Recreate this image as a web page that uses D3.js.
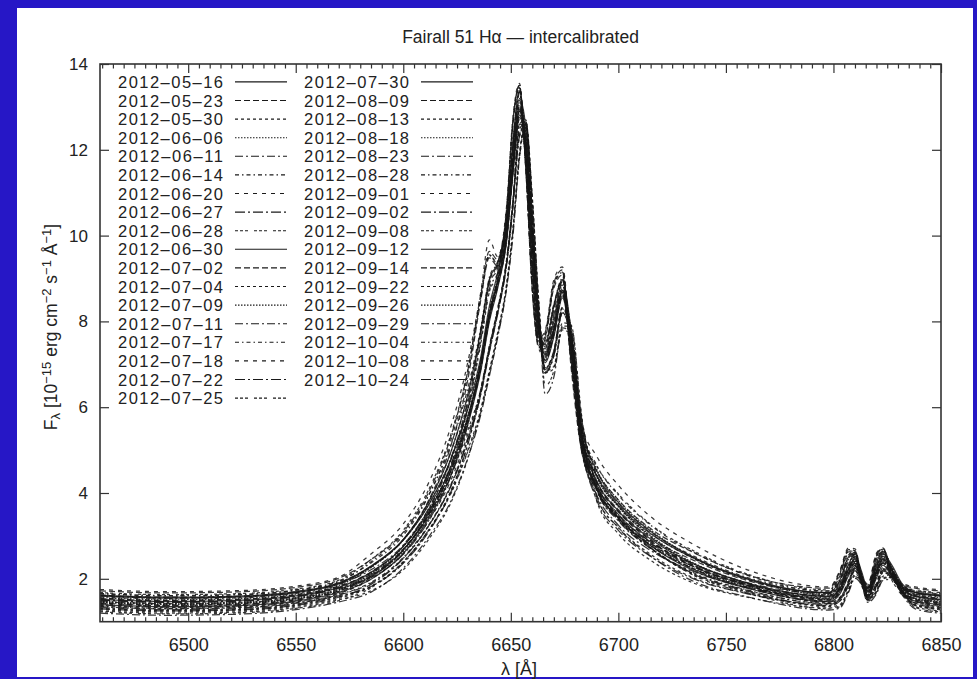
<!DOCTYPE html>
<html>
<head>
<meta charset="utf-8">
<script src="https://cdn.jsdelivr.net/npm/d3@7"></script>
<style>
html,body{margin:0;padding:0;background:#2617c6;}
svg{display:block;}
text{font-family:"Liberation Sans",Arial,Helvetica,sans-serif;fill:#222;}
</style>
</head>
<body>
<svg id="chart" width="977" height="679"></svg>
<script>
// ---- data ----
const titleText = "Fairall 51 H\u03b1 \u2014 intercalibrated";
const xTicks = [6500, 6550, 6600, 6650, 6700, 6750, 6800, 6850];
const yTicks = [2, 4, 6, 8, 10, 12, 14];
const dates = [
 "2012-05-16","2012-05-23","2012-05-30","2012-06-06","2012-06-11","2012-06-14","2012-06-20","2012-06-27","2012-06-28",
 "2012-06-30","2012-07-02","2012-07-04","2012-07-09","2012-07-11","2012-07-17","2012-07-18","2012-07-22","2012-07-25",
 "2012-07-30","2012-08-09","2012-08-13","2012-08-18","2012-08-23","2012-08-28","2012-09-01","2012-09-02","2012-09-08",
 "2012-09-12","2012-09-14","2012-09-22","2012-09-26","2012-09-29","2012-10-04","2012-10-08","2012-10-24"
];
const wavelengths = [6459,6490,6520,6550,6570,6585,6600,6612,6622,6630,6636,6640,6644,6648,6651,6654,6657,6660,6663,6666,6670,6674,6678,6683,6690,6700,6715,6735,6760,6798,6803,6807,6810,6813,6816,6820,6823,6827,6832,6838,6850];
const fluxes = [
 [1.60,1.55,1.57,1.68,1.88,2.28,2.90,3.74,4.77,5.96,7.16,8.35,9.15,10.2,11.8,13.2,12.5,10.1,8.1,7.4,8.0,8.95,7.8,5.56,4.51,3.78,3.11,2.50,2.01,1.67,1.85,2.33,2.58,2.18,1.78,2.28,2.58,2.33,1.88,1.68,1.60],
 [1.72,1.67,1.69,1.80,2.01,2.45,3.09,4.04,5.30,6.85,8.63,9.63,9.43,10.6,12.7,13.5,11.6,8.8,7.55,7.75,8.9,9.2,7.15,5.25,4.50,3.84,3.17,2.61,2.09,1.78,2.17,2.68,2.66,2.07,1.85,2.57,2.70,2.17,1.87,1.78,1.72],
 [1.25,1.20,1.22,1.33,1.51,1.72,2.21,2.93,3.76,4.80,5.90,6.80,7.72,8.82,10.1,11.9,12.6,10.8,8.4,6.8,6.9,7.8,7.7,5.4,3.8,3.05,2.43,1.90,1.57,1.32,1.37,1.73,2.07,1.92,1.50,1.70,2.02,2.05,1.67,1.35,1.25],
 [1.45,1.40,1.42,1.53,1.73,2.11,2.75,3.60,4.59,5.77,6.92,8.07,8.87,9.92,11.5,12.8,12.1,9.8,7.8,7.1,7.7,8.6,7.62,5.42,4.37,3.68,2.99,2.35,1.89,1.52,1.70,2.13,2.38,1.98,1.63,2.08,2.38,2.13,1.73,1.53,1.45],
 [1.35,1.30,1.32,1.43,1.62,1.90,2.48,3.25,4.16,5.26,6.36,7.36,8.27,9.37,10.8,12.6,12.5,10.4,8.1,6.9,7.3,8.3,7.7,5.36,4.06,3.35,2.70,2.12,1.73,1.42,1.53,1.90,2.25,1.95,1.56,1.85,2.20,2.10,1.70,1.43,1.35],
 [1.65,1.60,1.62,1.73,1.93,2.40,3.06,3.97,5.11,6.44,7.84,9.02,9.42,10.4,12.2,13.35,11.9,9.4,7.74,7.54,8.4,9.0,7.54,5.54,4.64,3.95,3.25,2.62,2.08,1.71,2.00,2.55,2.65,2.10,1.80,2.42,2.68,2.28,1.85,1.72,1.65],
 [1.55,1.50,1.52,1.63,1.83,2.13,2.69,3.50,4.51,5.73,7.08,8.23,9.03,10.1,11.7,13.0,12.3,10.0,7.98,7.28,7.88,8.78,7.58,5.18,4.13,3.42,2.81,2.29,1.87,1.62,1.80,2.27,2.52,2.12,1.73,2.22,2.52,2.27,1.83,1.63,1.55],
 [1.30,1.25,1.27,1.38,1.57,1.87,2.47,3.25,4.14,5.23,6.28,7.28,8.2,9.3,10.7,12.5,12.6,10.3,8.0,6.8,7.2,8.2,7.65,5.38,4.08,3.39,2.72,2.11,1.71,1.37,1.48,1.84,2.19,1.89,1.51,1.79,2.14,2.04,1.65,1.38,1.30],
 [1.42,1.37,1.39,1.50,1.70,2.04,2.66,3.55,4.62,5.97,7.47,8.68,9.08,10.1,11.9,13.0,11.6,9.1,7.37,7.17,8.07,8.68,7.07,4.97,4.07,3.45,2.79,2.22,1.79,1.48,1.77,2.25,2.35,1.87,1.57,2.12,2.38,1.98,1.62,1.49,1.42],
 [1.52,1.47,1.49,1.60,1.80,2.15,2.75,3.58,4.58,5.78,7.03,8.18,8.98,10.0,11.6,12.95,12.2,9.95,7.93,7.23,7.83,8.73,7.63,5.33,4.28,3.58,2.93,2.35,1.90,1.59,1.77,2.23,2.48,2.08,1.70,2.18,2.48,2.23,1.80,1.60,1.52],
 [1.62,1.57,1.59,1.70,1.91,2.29,2.91,3.85,5.08,6.64,8.49,9.48,9.28,10.5,12.6,13.45,11.5,8.68,7.39,7.59,8.78,9.08,6.94,4.99,4.24,3.61,2.96,2.43,1.96,1.68,2.07,2.58,2.56,1.97,1.75,2.46,2.64,2.07,1.77,1.68,1.62],
 [1.38,1.33,1.35,1.46,1.65,2.03,2.67,3.47,4.39,5.46,6.41,7.41,8.32,9.42,10.8,12.6,12.7,10.4,8.12,6.91,7.31,8.32,7.87,5.71,4.41,3.69,2.98,2.31,1.85,1.45,1.56,1.94,2.29,1.99,1.59,1.89,2.24,2.14,1.73,1.46,1.38],
 [1.48,1.43,1.45,1.56,1.76,2.06,2.64,3.46,4.46,5.67,6.97,8.12,8.92,9.97,11.6,12.9,12.2,9.87,7.87,7.17,7.77,8.67,7.52,5.17,4.12,3.42,2.79,2.24,1.83,1.55,1.73,2.17,2.42,2.03,1.66,2.12,2.42,2.17,1.76,1.56,1.48],
 [1.20,1.15,1.17,1.28,1.46,1.69,2.25,2.99,3.80,4.82,5.82,6.72,7.65,8.75,10.0,11.8,12.6,10.8,8.35,6.3,6.7,7.85,7.75,5.52,3.92,3.19,2.53,1.94,1.58,1.27,1.32,1.68,2.01,1.86,1.45,1.65,1.96,1.99,1.62,1.30,1.20],
 [1.58,1.53,1.55,1.66,1.86,2.27,2.91,3.81,4.94,6.28,7.73,8.92,9.32,10.3,12.1,13.3,11.8,9.32,7.63,7.43,8.32,8.92,7.38,5.33,4.43,3.75,3.07,2.47,1.98,1.64,1.93,2.45,2.55,2.03,1.73,2.32,2.58,2.18,1.78,1.65,1.58],
 [1.44,1.39,1.41,1.52,1.72,2.07,2.69,3.53,4.51,5.70,6.90,8.06,8.86,9.91,11.5,12.7,12.0,9.81,7.8,7.1,7.7,8.61,7.55,5.30,4.25,3.57,2.90,2.29,1.85,1.51,1.69,2.12,2.37,1.97,1.62,2.07,2.37,2.12,1.72,1.52,1.44],
 [1.33,1.28,1.30,1.41,1.60,1.82,2.36,3.11,4.01,5.13,6.33,7.33,8.24,9.34,10.7,12.3,12.6,10.3,8.04,6.83,7.23,8.2,7.54,5.13,3.83,3.13,2.52,2.00,1.65,1.40,1.51,1.88,2.23,1.93,1.54,1.83,2.18,2.08,1.68,1.41,1.33],
 [1.68,1.63,1.65,1.76,1.97,2.45,3.13,4.10,5.34,6.87,8.55,9.55,9.35,10.55,12.65,13.45,11.55,8.75,7.47,7.67,8.85,9.15,7.17,5.37,4.62,3.98,3.27,2.65,2.11,1.74,2.13,2.65,2.63,2.03,1.81,2.53,2.71,2.13,1.83,1.74,1.68],
 [1.40,1.35,1.37,1.48,1.68,1.99,2.59,3.42,4.39,5.59,6.84,7.99,8.80,9.85,11.45,12.75,12.05,9.75,7.75,7.04,7.64,8.55,7.44,5.14,4.09,3.42,2.77,2.19,1.78,1.47,1.65,2.07,2.32,1.95,1.58,2.02,2.32,2.07,1.68,1.48,1.40],
 [1.54,1.49,1.51,1.62,1.82,2.16,2.76,3.64,4.75,6.11,7.66,8.86,9.26,10.26,12.06,13.16,11.76,9.26,7.56,7.36,8.26,8.86,7.21,5.06,4.16,3.50,2.86,2.32,1.88,1.60,1.89,2.40,2.50,1.99,1.69,2.27,2.53,2.12,1.74,1.61,1.54],
 [1.28,1.23,1.25,1.36,1.54,1.82,2.40,3.15,3.99,5.00,5.95,6.85,7.77,8.87,10.2,11.9,12.65,10.9,8.47,6.85,6.95,7.97,7.92,5.75,4.15,3.39,2.71,2.09,1.69,1.35,1.40,1.76,2.11,1.96,1.53,1.73,2.06,2.09,1.70,1.38,1.28],
 [1.46,1.41,1.43,1.54,1.74,2.13,2.77,3.62,4.61,5.79,6.94,8.09,8.89,9.94,11.54,12.84,12.14,9.84,7.84,7.14,7.74,8.64,7.64,5.44,4.39,3.70,3.01,2.37,1.90,1.53,1.71,2.15,2.40,2.00,1.64,2.10,2.40,2.15,1.74,1.54,1.46],
 [1.60,1.55,1.57,1.68,1.88,2.21,2.79,3.66,4.79,6.16,7.76,8.95,9.35,10.35,12.15,13.35,11.85,9.35,7.66,7.46,8.35,8.95,7.26,5.06,4.16,3.48,2.86,2.35,1.91,1.66,1.95,2.48,2.58,2.05,1.75,2.35,2.61,2.21,1.80,1.67,1.60],
 [1.36,1.31,1.33,1.44,1.63,1.92,2.50,3.27,4.18,5.28,6.38,7.38,8.29,9.39,10.8,12.35,12.65,10.4,8.09,6.88,7.28,8.29,7.69,5.38,4.08,3.37,2.72,2.14,1.74,1.43,1.54,1.92,2.27,1.97,1.57,1.87,2.22,2.12,1.71,1.44,1.36],
 [1.75,1.70,1.72,1.83,2.04,2.58,3.28,4.26,5.53,7.05,8.67,9.9,9.5,10.67,12.77,13.55,11.67,8.87,7.6,7.8,8.97,9.27,7.35,5.60,4.85,4.18,3.45,2.80,2.21,1.81,2.20,2.72,2.70,2.10,1.88,2.60,2.72,2.20,1.90,1.81,1.75],
 [1.50,1.45,1.47,1.58,1.78,2.03,2.57,3.37,4.37,5.60,7.00,8.15,8.95,10.0,11.6,12.9,12.2,9.9,7.9,7.2,7.8,8.7,7.45,5.0,3.95,3.25,2.66,2.17,1.79,1.57,1.75,2.20,2.45,2.05,1.68,2.15,2.45,2.20,1.78,1.58,1.50],
 [1.23,1.18,1.20,1.31,1.49,1.79,2.39,3.15,3.97,4.97,5.87,6.77,7.69,8.79,10.1,11.8,12.6,10.8,8.39,6.5,6.85,7.89,7.89,5.77,4.17,3.43,2.73,2.08,1.67,1.30,1.35,1.71,2.05,1.90,1.48,1.68,2.00,2.03,1.65,1.33,1.23],
 [1.62,1.57,1.59,1.70,1.90,2.30,2.92,3.81,4.94,6.29,7.79,8.98,9.38,10.38,12.18,13.38,11.88,9.38,7.69,7.49,8.38,8.98,7.39,5.29,4.39,3.71,3.05,2.48,1.99,1.68,1.97,2.51,2.61,2.07,1.77,2.38,2.64,2.24,1.82,1.69,1.62],
 [1.43,1.38,1.40,1.51,1.71,2.06,2.68,3.52,4.50,5.69,6.89,8.05,8.85,9.9,11.5,12.8,12.1,9.8,7.79,7.09,7.69,8.6,7.54,5.29,4.24,3.56,2.89,2.28,1.84,1.50,1.68,2.11,2.36,1.96,1.61,2.06,2.36,2.11,1.71,1.51,1.43],
 [1.31,1.26,1.28,1.39,1.58,1.82,2.38,3.14,4.04,5.15,6.30,7.30,8.21,9.31,10.7,12.3,12.6,10.3,8.01,6.8,7.2,8.21,7.56,5.20,3.90,3.20,2.57,2.02,1.66,1.38,1.49,1.86,2.20,1.90,1.52,1.80,2.15,2.05,1.66,1.39,1.31],
 [1.56,1.51,1.53,1.64,1.84,2.26,2.90,3.75,4.77,5.95,7.10,8.24,9.04,10.1,11.7,13.1,12.4,10.0,8.0,7.3,7.9,8.84,7.8,5.6,4.55,3.83,3.14,2.50,2.00,1.63,1.81,2.28,2.53,2.13,1.74,2.23,2.53,2.28,1.84,1.64,1.56],
 [1.47,1.42,1.44,1.55,1.75,2.07,2.67,3.55,4.64,6.00,7.55,8.75,9.15,10.15,11.95,13.05,11.65,9.15,7.45,7.25,8.15,8.75,7.10,4.95,4.05,3.41,2.77,2.23,1.81,1.53,1.82,2.31,2.41,1.92,1.62,2.18,2.44,2.05,1.67,1.54,1.47],
 [1.66,1.61,1.63,1.74,1.95,2.37,3.01,3.96,5.21,6.76,8.54,9.54,9.34,10.54,12.64,13.5,11.54,8.74,7.46,7.66,8.84,9.14,7.06,5.16,4.41,3.76,3.09,2.53,2.03,1.72,2.11,2.63,2.61,2.01,1.79,2.51,2.69,2.11,1.81,1.72,1.66],
 [1.39,1.34,1.36,1.47,1.66,1.99,2.59,3.37,4.28,5.37,6.42,7.42,8.33,9.43,10.83,12.45,12.65,10.43,8.13,6.92,7.32,8.33,7.78,5.52,4.22,3.51,2.84,2.23,1.80,1.46,1.57,1.96,2.31,2.01,1.60,1.91,2.26,2.16,1.74,1.47,1.39],
 [1.51,1.46,1.48,1.59,1.79,2.10,2.68,3.50,4.51,5.72,7.02,8.17,8.97,10.0,11.6,12.9,12.2,9.9,7.92,7.22,7.82,8.72,7.57,5.22,4.17,3.46,2.83,2.28,1.86,1.58,1.76,2.21,2.46,2.06,1.69,2.16,2.46,2.21,1.79,1.59,1.51]
];

// ---- styles ----
const dashTypes = [null, "6,3", "3,3", "1.5,1.5", "8,3,2,3", "4,3,1.5,3", "4,5", "10,3,2,3", "3,2,3,2,3,6"];

// ---- layout ----
const svg = d3.select("#chart");
const M = {left: 100, right: 941, top: 64, bottom: 621.7};

svg.append("rect").attr("x", 0).attr("y", 0).attr("width", 977).attr("height", 679).attr("fill", "#2617c6");
svg.append("rect").attr("x", 17).attr("y", 8).attr("width", 956).attr("height", 669).attr("fill", "#ffffff");

const x = d3.scaleLinear().domain([6459, 6850]).range([M.left, M.right]);
const y = d3.scaleLinear().domain([1, 14]).range([M.bottom, M.top]);

svg.append("defs").append("clipPath").attr("id", "plotclip")
  .append("rect").attr("x", M.left).attr("y", M.top).attr("width", M.right - M.left).attr("height", M.bottom - M.top);

// title
svg.append("text").attr("x", 520.5).attr("y", 42.5).attr("text-anchor", "middle")
  .style("font-size", "17.5px").text(titleText);

// curves
const line = d3.line().x((d, i) => x(wavelengths[i])).y(d => y(d)).curve(d3.curveMonotoneX);
const gCurves = svg.append("g").attr("clip-path", "url(#plotclip)");
fluxes.forEach((vals, k) => {
  gCurves.append("path").attr("d", line(vals)).attr("fill", "none")
    .attr("stroke", "#161616").attr("stroke-width", 1.25).attr("stroke-opacity", 0.85)
    .attr("stroke-dasharray", dashTypes[k % 9]);
});

// axes (gnuplot style: box, inward ticks on all sides)
const axisColor = "#333";
const bottomAxis = d3.axisBottom(x).tickValues(xTicks).tickSize(-9).tickPadding(17).tickFormat(d3.format("d"));
const gb = svg.append("g").attr("transform", `translate(0,${M.bottom})`).call(bottomAxis);
const topAxis = d3.axisTop(x).tickValues(xTicks).tickSize(-9).tickFormat("");
const gt = svg.append("g").attr("transform", `translate(0,${M.top})`).call(topAxis);
const minorX = d3.range(6460, 6851, 5).filter(v => v % 50 !== 0);
const gbm = svg.append("g").attr("transform", `translate(0,${M.bottom})`).call(d3.axisBottom(x).tickValues(minorX).tickSize(-4.5).tickFormat(""));
const gtm = svg.append("g").attr("transform", `translate(0,${M.top})`).call(d3.axisTop(x).tickValues(minorX).tickSize(-4.5).tickFormat(""));
const leftAxis = d3.axisLeft(y).tickValues(yTicks).tickSize(-9).tickPadding(12).tickFormat(d3.format("d"));
const gl = svg.append("g").attr("transform", `translate(${M.left},0)`).call(leftAxis);
const gr = svg.append("g").attr("transform", `translate(${M.right},0)`).call(d3.axisRight(y).tickValues(yTicks).tickSize(-9).tickFormat(""));
[gb, gt, gbm, gtm, gl, gr].forEach(g => {
  g.select(".domain").remove();
  g.selectAll(".tick line").attr("stroke", axisColor).attr("stroke-width", 1.2);
});
gb.selectAll(".tick text").style("font-size", "18px").attr("fill", "#222").attr("font-family", '"Liberation Sans",Arial,sans-serif');
gl.selectAll(".tick text").style("font-size", "17px").attr("fill", "#222").attr("font-family", '"Liberation Sans",Arial,sans-serif');
svg.append("rect").attr("x", M.left).attr("y", M.top).attr("width", M.right - M.left).attr("height", M.bottom - M.top)
  .attr("fill", "none").attr("stroke", axisColor).attr("stroke-width", 1.6);

// axis labels
svg.append("text").attr("x", 519).attr("y", 675).attr("text-anchor", "middle").style("font-size", "18px").text("\u03bb [\u00c5]");
const yl = svg.append("text").attr("transform", "translate(56.5,327) rotate(-90)").attr("text-anchor", "middle").style("font-size", "17.5px");
yl.append("tspan").text("F");
yl.append("tspan").attr("baseline-shift", "-25%").style("font-size", "13px").text("\u03bb");
yl.append("tspan").text(" [10");
yl.append("tspan").attr("baseline-shift", "45%").style("font-size", "13px").text("\u221215");
yl.append("tspan").text(" erg cm");
yl.append("tspan").attr("baseline-shift", "45%").style("font-size", "13px").text("\u22122");
yl.append("tspan").text(" s");
yl.append("tspan").attr("baseline-shift", "45%").style("font-size", "13px").text("\u22121");
yl.append("tspan").text(" \u00c5");
yl.append("tspan").attr("baseline-shift", "45%").style("font-size", "13px").text("\u22121");
yl.append("tspan").text("]");

// legend
const gLeg = svg.append("g");
dates.forEach((d, k) => {
  const col = k < 18 ? 0 : 1;
  const row = k < 18 ? k : k - 18;
  const yy = 81.9 + row * 18.6;
  const tx = col === 0 ? 223 : 409;
  const lx = col === 0 ? 235 : 421;
  gLeg.append("text").attr("x", tx).attr("y", yy + 6).attr("text-anchor", "end")
    .attr("textLength", 105).attr("lengthAdjust", "spacing")
    .style("font-size", "16.5px").text(d.replace(/-/g, "\u2013"));
  gLeg.append("line").attr("x1", lx).attr("x2", lx + 52).attr("y1", yy).attr("y2", yy)
    .attr("stroke", "#1a1a1a").attr("stroke-width", 1.1).attr("stroke-dasharray", dashTypes[k % 9]);
});
</script>
</body>
</html>
